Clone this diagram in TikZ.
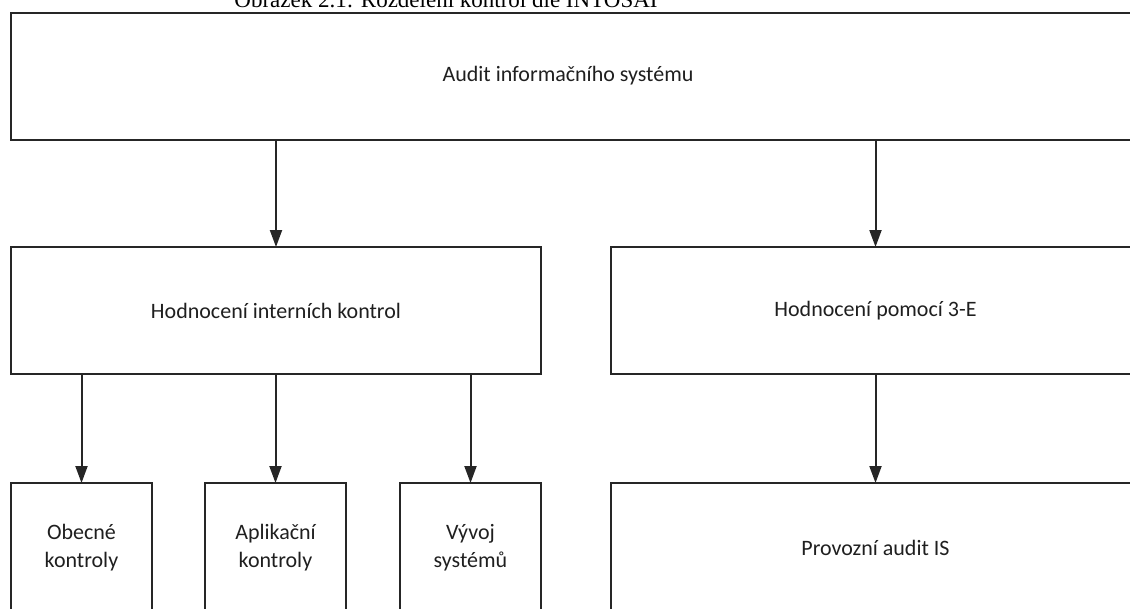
\documentclass[tikz,border=0pt]{standalone}
\usepackage{fontspec}
\setmainfont{Carlito}
\newfontfamily\capfont{Liberation Serif}
\usetikzlibrary{arrows.meta}

\tikzset{
  boxfont/.style={font=\fontsize{22}{28}\selectfont, text=black!88},
  box/.style={draw=black!85, line width=2pt, rectangle, inner sep=0pt,
              boxfont, align=center},
  conn/.style={draw=black!85, line width=2pt,
               -{Triangle[width=12pt,length=17pt]}, shorten >=-1pt}
}

\begin{document}
\begin{tikzpicture}[x=1pt, y=-1pt]
  \useasboundingbox (0,0) rectangle (1130,608);
  \clip (0,0) rectangle (1130,608);

  % caption of the figure, cut at the page top
  \node[anchor=base, font=\capfont\fontsize{23}{27}\selectfont, inner sep=0pt]
    (caption) at (446,7.5) {Obrázek 2.1: Rozdělení kontrol dle INTOSAI};

  % top level
  \node[box, minimum width=1129pt, minimum height=127pt] (audit) at (575.5,76.5) {};
  \node[boxfont] (auditlbl) at (568,76) {Audit informačního systému};

  % second level
  \node[box, minimum width=530pt, minimum height=127pt] (intern) at (276,310.5) {Hodnocení interních kontrol};
  \node[box, minimum width=529pt, minimum height=127pt] (threeE) at (875.5,310.5) {Hodnocení pomocí 3-E};

  % third level
  \node[box, minimum width=141pt, minimum height=129pt] (obecne) at (81.5,547.5) {Obecné\\kontroly};
  \node[box, minimum width=141pt, minimum height=129pt] (aplik) at (275.5,547.5) {Aplikační\\kontroly};
  \node[box, minimum width=141pt, minimum height=129pt] (vyvoj) at (470.5,547.5) {Vývoj\\systémů};
  \node[box, minimum width=529pt, minimum height=129pt] (provoz) at (875.5,547.5) {Provozní audit IS};

  % connectors
  \draw[conn] (audit.south -| intern.north) -- (intern.north);
  \draw[conn] (audit.south -| threeE.north) -- (threeE.north);
  \draw[conn] (intern.south -| obecne.north) -- (obecne.north);
  \draw[conn] (intern.south -| aplik.north) -- (aplik.north);
  \draw[conn] (intern.south -| vyvoj.north) -- (vyvoj.north);
  \draw[conn] (threeE.south) -- (provoz.north);
\end{tikzpicture}
\end{document}
